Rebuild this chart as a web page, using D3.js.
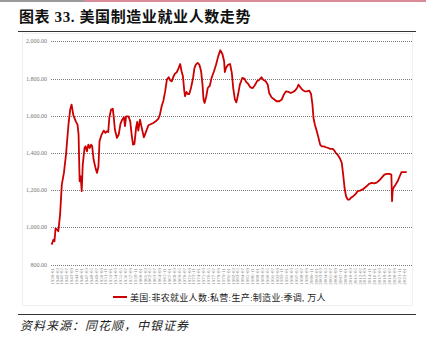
<!DOCTYPE html>
<html>
<head>
<meta charset="utf-8">
<script src="https://cdn.jsdelivr.net/npm/d3@7"></script>
<style>
  body { margin: 0; background: #fff; }
  svg { display: block; }
</style>
</head>
<body>
<svg id="chart" width="426" height="347"></svg>
<script>
// 美国:非农就业人数:私营:生产:制造业:季调 (万人)
var dates = [
    "1939-01","1939-06","1939-09","1939-12","1940-04","1940-08","1941-01","1941-06","1941-12","1942-06",
    "1943-01","1943-06","1943-10","1944-03","1944-10","1945-03","1945-06","1945-09","1945-12","1946-03",
    "1946-06","1946-11","1947-02","1947-06","1947-10","1948-02","1948-06","1948-09","1949-01","1949-07",
    "1949-11","1950-03","1950-06","1950-12","1951-06","1951-11","1952-03","1952-07","1952-10","1953-03",
    "1953-08","1953-11","1954-02","1954-08","1955-01","1955-06","1955-11","1956-04","1956-07","1956-10",
    "1957-05","1957-10","1958-02","1958-06","1958-10","1959-03","1959-06","1959-09","1960-02","1960-07",
    "1961-01","1961-06","1962-02","1962-10","1963-04","1963-11","1964-07","1964-11","1965-04","1965-09",
    "1966-02","1966-07","1966-12","1967-05","1967-09","1968-01","1968-06","1968-11","1969-04","1969-09",
    "1970-01","1970-05","1970-09","1970-11","1971-03","1971-07","1971-11","1972-04","1972-10","1973-02",
    "1973-06","1973-11","1974-04","1974-09","1975-01","1975-04","1975-07","1975-12","1976-04","1976-10",
    "1977-03","1977-10","1978-04","1978-10","1979-04","1979-10","1980-03","1980-05","1980-09","1981-03",
    "1981-08","1982-01","1982-05","1982-10","1983-02","1983-07","1983-12","1984-07","1985-01","1985-06",
    "1985-12","1986-06","1987-01","1987-07","1988-01","1988-08","1989-02","1989-07","1990-02","1990-08",
    "1990-12","1991-07","1992-03","1992-09","1993-05","1993-12","1994-05","1994-12","1995-07","1996-02",
    "1996-08","1997-02","1997-08","1997-12","1998-05","1998-11","1999-06","1999-12","2000-07","2000-12",
    "2001-04","2001-07","2001-11","2002-04","2002-09","2003-02","2003-06","2003-12","2004-07","2005-01",
    "2005-07","2006-02","2006-07","2006-11","2007-05","2007-11","2008-04","2008-08","2008-12","2009-04",
    "2009-09","2010-02","2010-06","2011-01","2011-08","2012-01","2012-08","2013-03","2013-09","2014-03",
    "2014-10","2015-06","2016-01","2016-08","2017-03","2017-10","2018-06","2019-01","2019-08","2020-02",
    "2020-04","2020-06","2020-09","2021-02","2021-08","2022-02","2022-07","2023-02","2023-10"
];
var workers = [
    908, 935, 926, 994, 989, 980, 1069, 1230, 1293, 1391,
    1552, 1633, 1660, 1603, 1570, 1552, 1499, 1248, 1275, 1195,
    1338, 1427, 1436, 1409, 1445, 1427, 1445, 1436, 1365, 1316,
    1293, 1329, 1463, 1499, 1520, 1508, 1517, 1513, 1588, 1633,
    1638, 1588, 1526, 1481, 1499, 1556, 1579, 1592, 1544, 1597,
    1597, 1570, 1499, 1445, 1449, 1538, 1567, 1520, 1579, 1535,
    1484, 1508, 1549, 1556, 1561, 1570, 1585, 1606, 1651, 1681,
    1731, 1794, 1807, 1789, 1785, 1807, 1826, 1833, 1853, 1878,
    1839, 1812, 1731, 1705, 1728, 1717, 1717, 1749, 1803, 1857,
    1875, 1884, 1875, 1839, 1767, 1687, 1669, 1705, 1749, 1762,
    1803, 1839, 1875, 1919, 1952, 1932, 1893, 1835, 1860, 1875,
    1878, 1830, 1749, 1687, 1672, 1714, 1767, 1803, 1800, 1782,
    1771, 1753, 1749, 1764, 1785, 1794, 1807, 1794, 1785, 1767,
    1722, 1699, 1687, 1678, 1678, 1687, 1710, 1731, 1728, 1722,
    1728, 1735, 1749, 1767, 1754, 1740, 1731, 1731, 1735, 1717,
    1660, 1588, 1552, 1520, 1484, 1445, 1436, 1436, 1431, 1427,
    1422, 1422, 1413, 1400, 1388, 1370, 1347, 1284, 1212, 1168,
    1150, 1150, 1159, 1168, 1180, 1195, 1198, 1203, 1212, 1221,
    1234, 1239, 1237, 1241, 1252, 1266, 1284, 1288, 1288, 1284,
    1141, 1203, 1216, 1230, 1248, 1275, 1297, 1297, 1297
];
var yTicks = [800, 1000, 1200, 1400, 1600, 1800, 2000];
var xTickLabels = [
    "1939-01","1940-03","1941-05","1942-07","1943-09","1944-11","1946-01","1947-03","1948-05","1949-07",
    "1950-09","1951-11","1953-01","1954-03","1955-05","1956-07","1957-09","1958-11","1960-01","1961-03",
    "1962-05","1963-07","1964-09","1965-11","1967-01","1968-03","1969-05","1970-07","1971-09","1972-11",
    "1974-01","1975-03","1976-05","1977-07","1978-09","1979-11","1981-01","1982-03","1983-05","1984-07",
    "1985-09","1986-11","1988-01","1989-03","1990-05","1991-07","1992-09","1993-11","1995-01","1996-03",
    "1997-05","1998-07","1999-09","2000-11","2002-01","2003-03","2004-05","2005-07","2006-09","2007-11",
    "2009-01","2010-03","2011-05","2012-07","2013-09","2014-11","2016-01","2017-03","2018-05","2019-07",
    "2020-09","2021-11","2023-01"
];
var titleText = "图表 33. 美国制造业就业人数走势";
var legendText = "美国:非农就业人数:私营:生产:制造业:季调, 万人";
var sourceText = "资料来源：同花顺，中银证券";

var parse = d3.timeParse("%Y-%m");
var data = dates.map((d, i) => ({date: parse(d), value: workers[i]}));

var svg = d3.select("#chart");
var serif = "'Liberation Serif', 'Noto Sans CJK SC', serif";
var cjk = "'Liberation Serif', 'Noto Sans CJK SC', sans-serif";

// header strip
svg.append("rect").attr("x", 0).attr("y", 0).attr("width", 84).attr("height", 2).attr("fill", "#9a9a9a");
svg.append("rect").attr("x", 84).attr("y", 0).attr("width", 342).attr("height", 2).attr("fill", "#d98a98");

svg.append("text")
    .attr("x", 19).attr("y", 22)
    .attr("font-family", cjk)
    .attr("font-weight", "bold")
    .attr("font-size", 15)
    .attr("letter-spacing", 0.6)
    .attr("fill", "#111")
    .text(titleText);

svg.append("line").attr("x1", 18).attr("x2", 416).attr("y1", 31.5).attr("y2", 31.5)
    .attr("stroke", "#333").attr("stroke-width", 1.2);

// chart frame
svg.append("rect").attr("x", 22.5).attr("y", 33.5).attr("width", 390).attr("height", 272)
    .attr("fill", "none").attr("stroke", "#f0f0f0");

var x = d3.scaleTime()
    .domain([parse("1939-01"), parse("2023-10")])
    .range([51.7, 406.7]);
var y = d3.scaleLinear()
    .domain([800, 2000])
    .range([264.7, 41.3]);

// grid
svg.append("g").selectAll("line")
    .data(yTicks)
    .join("line")
    .attr("x1", 51).attr("x2", 412)
    .attr("y1", d => Math.round(y(d)) + 0.5)
    .attr("y2", d => Math.round(y(d)) + 0.5)
    .attr("stroke", "#7a7a7a")
    .attr("stroke-width", 1)
    .attr("stroke-dasharray", "1,1");

var fmt = d3.format(",.2f");
svg.append("g").selectAll("text")
    .data(yTicks)
    .join("text")
    .attr("x", 47)
    .attr("y", d => y(d) + 2)
    .attr("text-anchor", "end")
    .attr("font-family", serif)
    .attr("font-size", 6)
    .attr("fill", "#777")
    .text(d => fmt(d));

// x tick labels
svg.append("g").selectAll("text")
    .data(xTickLabels)
    .join("text")
    .attr("transform", d => "translate(" + (x(parse(d)) + 2) + ",268) rotate(-90)")
    .attr("text-anchor", "end")
    .attr("font-family", serif)
    .attr("font-size", 5)
    .attr("fill", "#888")
    .text(d => d);

// line
var line = d3.line()
    .x(d => x(d.date))
    .y(d => y(d.value));

svg.append("path")
    .datum(data)
    .attr("d", line)
    .attr("fill", "none")
    .attr("stroke", "#cc0000")
    .attr("stroke-width", 1.8)
    .attr("stroke-linejoin", "round");

// legend
svg.append("line").attr("x1", 113).attr("x2", 127).attr("y1", 297).attr("y2", 297)
    .attr("stroke", "#cc0000").attr("stroke-width", 2);
svg.append("text")
    .attr("x", 130).attr("y", 300.5)
    .attr("font-family", cjk)
    .attr("font-size", 9)
    .attr("letter-spacing", 0.3)
    .attr("fill", "#222")
    .text(legendText);

// footer
svg.append("line").attr("x1", 18).attr("x2", 416).attr("y1", 314.5).attr("y2", 314.5)
    .attr("stroke", "#333").attr("stroke-width", 1);
svg.append("text")
    .attr("x", 20).attr("y", 330)
    .attr("font-family", cjk)
    .attr("font-style", "italic")
    .attr("font-size", 12)
    .attr("letter-spacing", 1)
    .attr("fill", "#222")
    .text(sourceText);
</script>
</body>
</html>
